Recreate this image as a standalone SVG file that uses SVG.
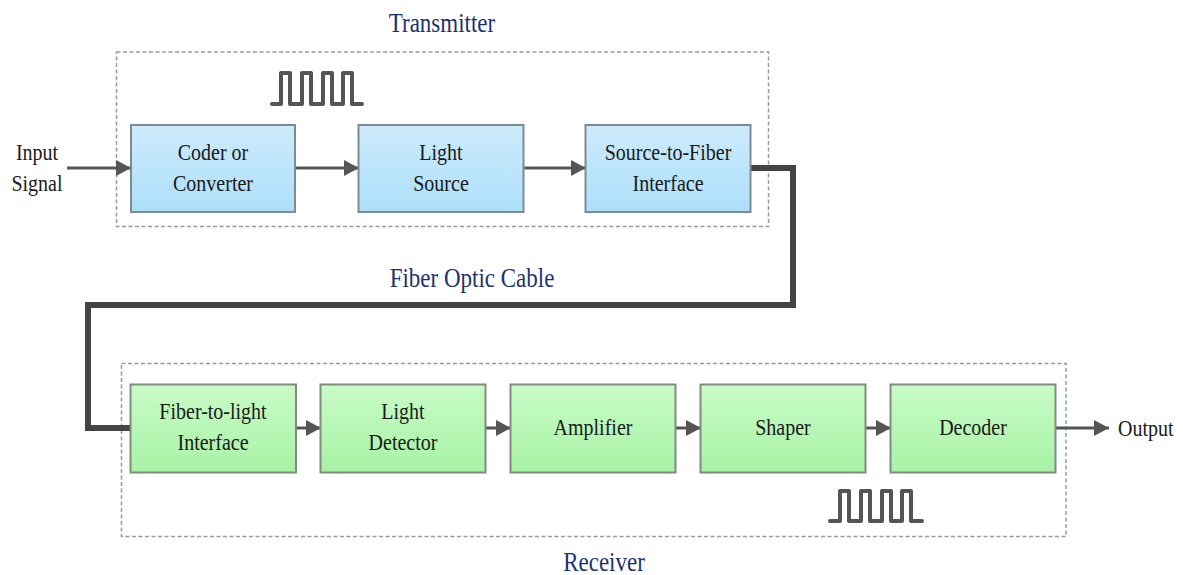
<svg xmlns="http://www.w3.org/2000/svg" width="1183" height="575" viewBox="0 0 1183 575">
<style>
.frame{fill:none;stroke:#9a9a9a;stroke-width:1.5;stroke-dasharray:4 2.5}
.tx{fill:url(#gBlue);stroke:#7d8b95;stroke-width:2}
.rx{fill:url(#gGreen);stroke:#7f8c7f;stroke-width:2}
.lbl{font-family:"Liberation Serif","Times New Roman",serif;font-size:20px;fill:#1a1a1a;text-anchor:middle}
.ttl{font-family:"Liberation Serif","Times New Roman",serif;font-size:23px;fill:#1d3170;text-anchor:middle}
.arr{fill:none;stroke:#555;stroke-width:3;marker-end:url(#ah)}
.fiber{fill:none;stroke:#444;stroke-width:6}
.wave{fill:none;stroke:#555;stroke-width:4;stroke-linejoin:round;stroke-linecap:round}
</style>
<defs>
<linearGradient id="gBlue" x1="0" y1="0" x2="0" y2="1">
<stop offset="0" stop-color="#cdebfc"/>
<stop offset="1" stop-color="#addffa"/>
</linearGradient>
<linearGradient id="gGreen" x1="0" y1="0" x2="0" y2="1">
<stop offset="0" stop-color="#c8fcc6"/>
<stop offset="1" stop-color="#a8f2a6"/>
</linearGradient>
<marker id="ah" markerUnits="userSpaceOnUse" markerWidth="15" markerHeight="16" refX="15" refY="8" orient="auto">
<path d="M0,0 L15,8 L0,16 z" fill="#555"/>
</marker>
</defs>

<rect id="transmitter-frame" class="frame" x="116.5" y="52" width="652" height="174.5"/>
<rect id="receiver-frame" class="frame" x="121.5" y="363.5" width="944.5" height="173"/>

<text class="ttl" transform="translate(442,32) scale(1,1.2)">Transmitter</text>
<text class="ttl" transform="translate(472,287) scale(1,1.2)">Fiber Optic Cable</text>
<text class="ttl" transform="translate(604,571) scale(1,1.2)">Receiver</text>

<g id="connectors">
<path class="fiber" d="M750,168 H793 V305 H88 V428 H130"/>
<line class="arr" x1="67" y1="168" x2="131" y2="168"/>
<line class="arr" x1="296" y1="168" x2="359" y2="168"/>
<line class="arr" x1="524" y1="168" x2="586" y2="168"/>
<line class="arr" x1="296" y1="428" x2="321" y2="428"/>
<line class="arr" x1="486" y1="428" x2="511" y2="428"/>
<line class="arr" x1="676" y1="428" x2="701" y2="428"/>
<line class="arr" x1="866" y1="428" x2="891" y2="428"/>
<line class="arr" x1="1055" y1="428" x2="1109" y2="428"/>
</g>

<g id="input-signal">
<text class="lbl" transform="translate(37,160) scale(1,1.2)"><tspan x="0" y="0">Input</tspan><tspan x="0" dy="25.6">Signal</tspan></text>
</g>

<g id="coder">
<rect class="tx" x="131" y="125" width="164" height="87"/>
<text class="lbl" transform="translate(213,160) scale(1,1.2)"><tspan x="0" y="0">Coder or</tspan><tspan x="0" dy="25.6">Converter</tspan></text>
</g>
<g id="light-source">
<rect class="tx" x="358.5" y="125" width="165" height="87"/>
<text class="lbl" transform="translate(441,160) scale(1,1.2)"><tspan x="0" y="0">Light</tspan><tspan x="0" dy="25.6">Source</tspan></text>
</g>
<g id="source-to-fiber">
<rect class="tx" x="585.5" y="125" width="165" height="87"/>
<text class="lbl" transform="translate(668,160) scale(1,1.2)"><tspan x="0" y="0">Source-to-Fiber</tspan><tspan x="0" dy="25.6">Interface</tspan></text>
</g>

<g id="fiber-to-light">
<rect class="rx" x="130.5" y="384.5" width="165.5" height="88"/>
<text class="lbl" transform="translate(213,419) scale(1,1.2)"><tspan x="0" y="0">Fiber-to-light</tspan><tspan x="0" dy="25.6">Interface</tspan></text>
</g>
<g id="light-detector">
<rect class="rx" x="320.5" y="384.5" width="165" height="88"/>
<text class="lbl" transform="translate(403,419) scale(1,1.2)"><tspan x="0" y="0">Light</tspan><tspan x="0" dy="25.6">Detector</tspan></text>
</g>
<g id="amplifier">
<rect class="rx" x="510.5" y="384.5" width="165" height="88"/>
<text class="lbl" transform="translate(593,435) scale(1,1.2)">Amplifier</text>
</g>
<g id="shaper">
<rect class="rx" x="700.5" y="384.5" width="165" height="88"/>
<text class="lbl" transform="translate(783,435) scale(1,1.2)">Shaper</text>
</g>
<g id="decoder">
<rect class="rx" x="890.5" y="384.5" width="165" height="88"/>
<text class="lbl" transform="translate(973,435) scale(1,1.2)">Decoder</text>
</g>
<g id="output">
<text class="lbl" style="text-anchor:start" transform="translate(1118,436) scale(1,1.2)">Output</text>
</g>

<g id="wave-tx">
<path class="wave" d="M272,104 H281 V73 H290 V104 H302 V73 H311 V104 H323 V73 H332 V104 H343 V73 H352 V104 H362"/>
</g>
<g id="wave-rx">
<path class="wave" d="M830,521 H840 V491 H849 V521 H861 V491 H870 V521 H882 V491 H891 V521 H902 V491 H911 V521 H922"/>
</g>
</svg>
